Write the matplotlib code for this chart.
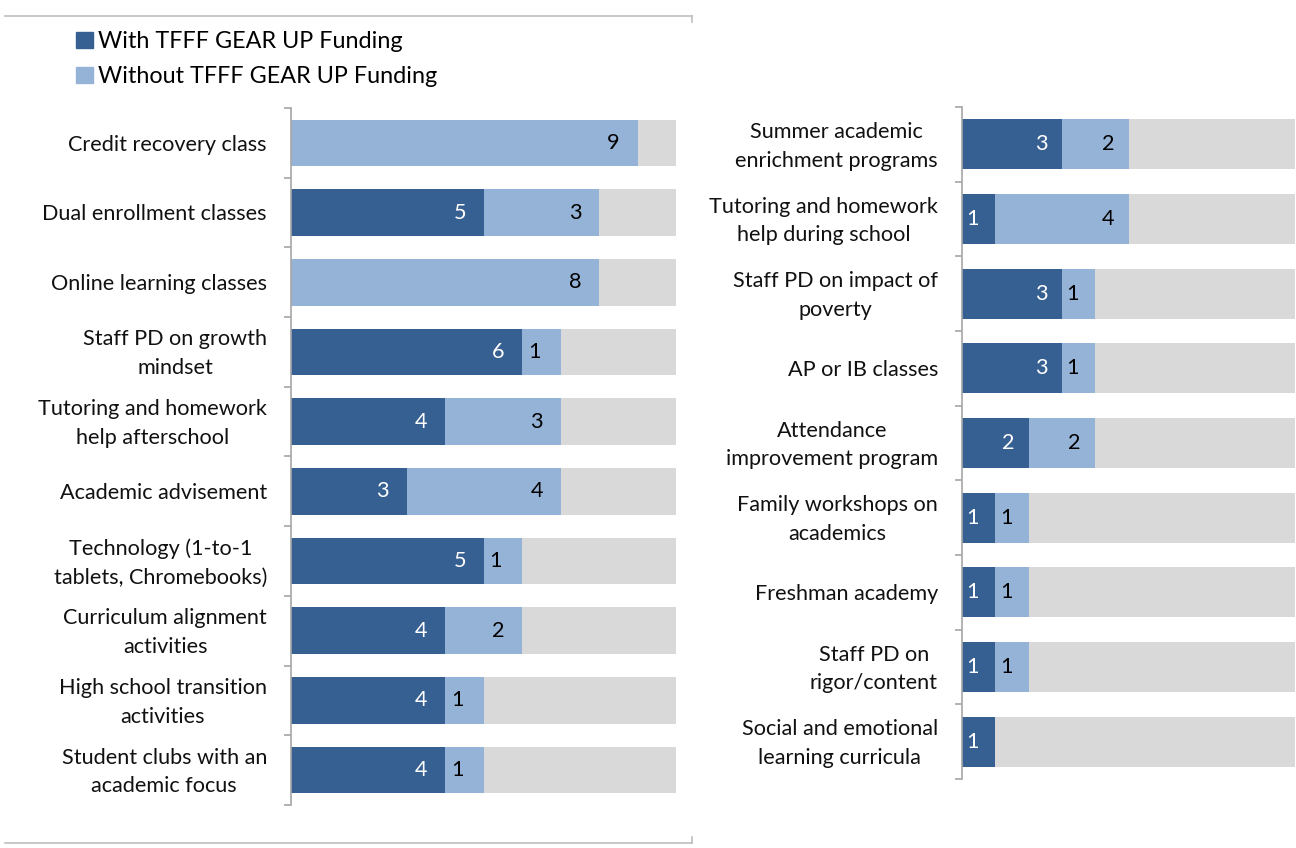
import matplotlib.pyplot as plt
from matplotlib.patches import Patch
from matplotlib.lines import Line2D
import numpy as np

plt.rcParams['font.family'] = ['Lato', 'DejaVu Sans']

# strategies and school counts
left_labels = ["Credit recovery class", "Dual enrollment classes", "Online learning classes",
               "Staff PD on growth\nmindset", "Tutoring and homework\nhelp afterschool",
               "Academic advisement", "Technology (1-to-1\ntablets, Chromebooks)",
               "Curriculum alignment\nactivities", "High school transition\nactivities",
               "Student clubs with an\nacademic focus"]
left_with = [0, 5, 0, 6, 4, 3, 5, 4, 4, 4]
left_without = [9, 3, 8, 1, 3, 4, 1, 2, 1, 1]

right_labels = ["Summer academic\nenrichment programs", "Tutoring and homework\nhelp during school",
                "Staff PD on impact of\npoverty", "AP or IB classes",
                "Attendance\nimprovement program", "Family workshops on\nacademics",
                "Freshman academy", "Staff PD on\nrigor/content",
                "Social and emotional\nlearning curricula"]
right_with = [3, 1, 3, 3, 2, 1, 1, 1, 1]
right_without = [2, 4, 1, 1, 2, 1, 1, 1, 0]

total_schools = 10

dark = "#376092"
light = "#95b3d7"
grey = "#d9d9d9"
axis_grey = "#a6a6a6"
fs = 15.6

W, H = 1296, 848
fig = plt.figure(figsize=(W / 100, H / 100), dpi=100)


def panel(rect, labels, with_f, without_f):
    ax = fig.add_axes(rect)
    n = len(labels)
    y = np.arange(n)
    w = np.array(with_f)
    wo = np.array(without_f)
    rest = total_schools - w - wo
    ax.barh(y, w, height=0.67, color=dark)
    ax.barh(y, wo, left=w, height=0.67, color=light)
    ax.barh(y, rest, left=w + wo, height=0.67, color=grey)

    # value labels near the inner end of each segment
    for i in range(n):
        for start, val, col in [(0, w[i], "white"), (w[i], wo[i], "black")]:
            if val == 0:
                continue
            if val >= 2:
                x = start + val - 0.62
            else:
                x = start + 0.32
            ax.text(x, i, str(val), ha="center", va="center", color=col, fontsize=fs)

    ax.set_xlim(0, total_schools)
    ax.set_ylim(n - 0.5, -0.5)
    ax.set_xticks([])
    for s in ["top", "right", "bottom"]:
        ax.spines[s].set_visible(False)
    ax.spines["left"].set_color(axis_grey)
    ax.spines["left"].set_linewidth(1.2)

    # category names, centred lines, block right-aligned left of the axis
    ax.set_yticks([])
    for i, lab in enumerate(labels):
        ax.annotate(lab, xy=(0, i), xycoords=ax.get_yaxis_transform(),
                    xytext=(-17.3, -1.4), textcoords="offset points",
                    ha="right", va="center", multialignment="center",
                    linespacing=1.55, fontsize=fs, color="#111111")
    ax.set_yticks(np.arange(n + 1) - 0.5, minor=True)
    ax.tick_params(axis="y", which="minor", length=5, width=1.2, color=axis_grey)
    return ax


panel([291 / W, 1 - 805 / H, 385 / W, 697 / H], left_labels, left_with, left_without)
panel([962 / W, 1 - 779 / H, 333 / W, 672 / H], right_labels, right_with, right_without)

handles = [Patch(color=dark, label="With TFFF GEAR UP Funding"),
           Patch(color=light, label="Without TFFF GEAR UP Funding")]
fig.legend(handles=handles, loc="upper left", bbox_to_anchor=(67 / W, 1 - 22 / H),
           frameon=False, fontsize=16.8, handlelength=0.7, handleheight=0.7,
           handletextpad=0.25, labelspacing=0.58, borderaxespad=0)

# frame rules above and below the left block
for yy, dy in [(16, 6), (843, -6)]:
    fig.add_artist(Line2D([5 / W, 692 / W], [1 - yy / H] * 2, color="#bfbfbf", lw=1.2))
    fig.add_artist(Line2D([692 / W] * 2, [1 - yy / H, 1 - (yy + dy) / H], color="#bfbfbf", lw=1.2))

fig.savefig("out.png", dpi=100)
